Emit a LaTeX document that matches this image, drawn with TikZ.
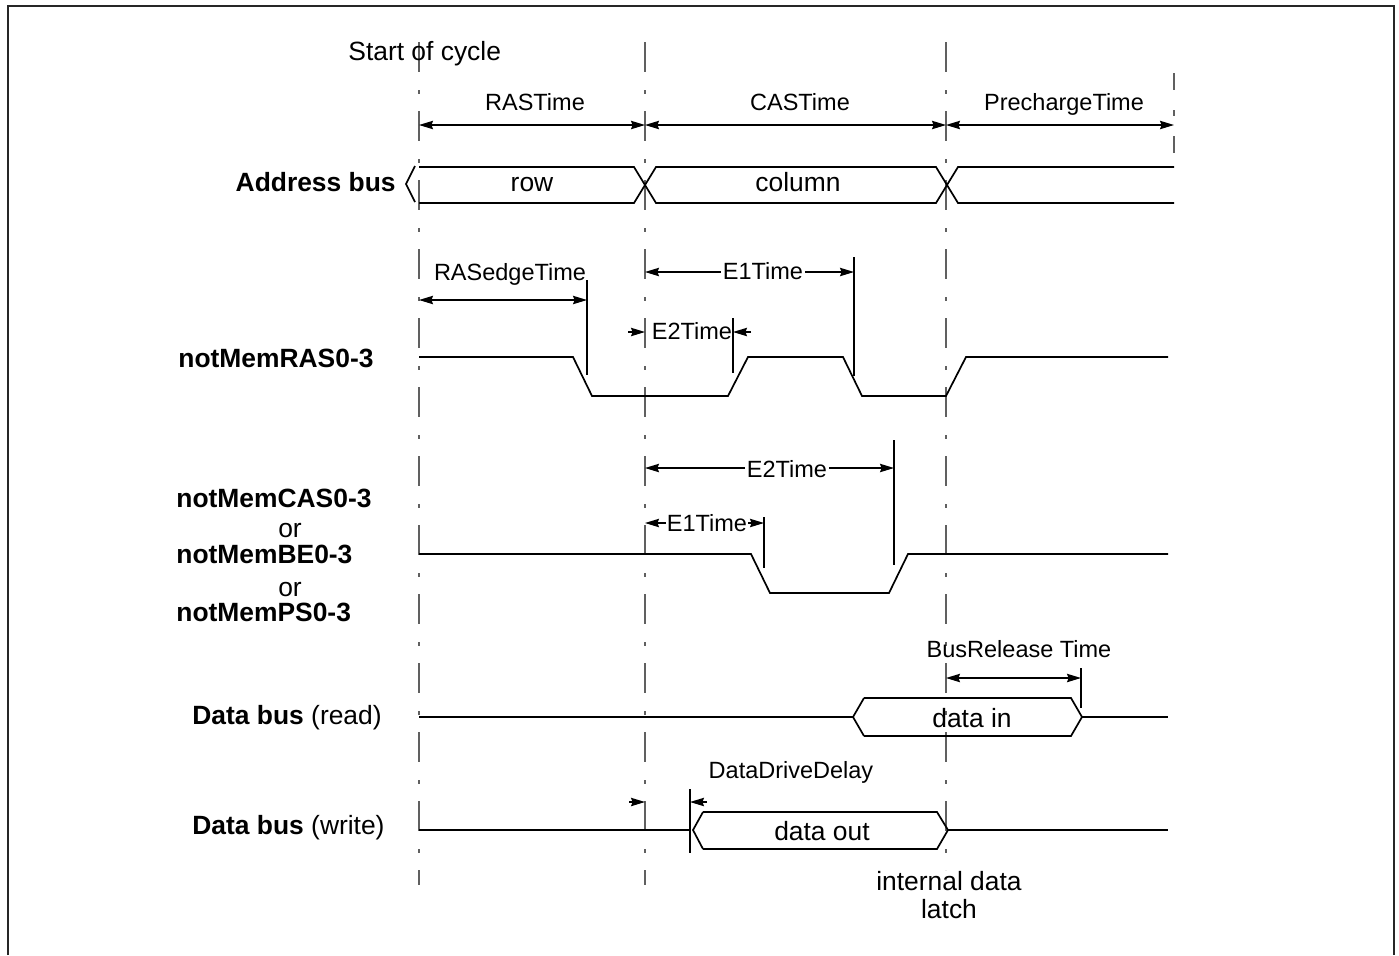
\documentclass[tikz,border=0pt]{standalone}
\usepackage{fontspec}
\setmainfont{Liberation Sans}
\usetikzlibrary{arrows.meta}
\begin{document}
\begin{tikzpicture}[x=0.5pt,y=-0.5pt,
  sig/.style={line width=0.85pt, black},
  cyc/.style={line width=0.9pt, gray!75!black, dash pattern=on 15pt off 9pt on 2pt off 8.5pt},
  tickln/.style={line width=0.85pt, black},
  dim/.style={line width=0.6pt, {Stealth[length=7pt,width=4.2pt,inset=0.8pt]}-{Stealth[length=7pt,width=4.2pt,inset=0.8pt]}},
  dimr/.style={line width=0.6pt, -{Stealth[length=7pt,width=4.2pt,inset=0.8pt]}},
  lab/.style={font=\fontsize{11.75}{14}\selectfont, inner sep=0pt, text height=0.72em, text depth=0pt},
  big/.style={font=\fontsize{13.2}{15.5}\selectfont, inner sep=0pt, text height=0.72em, text depth=0pt},
  bld/.style={font=\fontsize{13.2}{15.5}\selectfont\bfseries, inner sep=0pt, text height=0.72em, text depth=0pt},
  wlab/.style={lab, fill=white, inner xsep=1pt, inner ysep=1pt},
]
\useasboundingbox (0,0) rectangle (1399,955);
% frame
\draw[line width=1pt, gray!30!black] (8,955) -- (8,6) -- (1394,6) -- (1394,955);

% cycle boundaries
\coordinate (t0a) at (419,42);  \coordinate (t0b) at (419,885);
\coordinate (t1a) at (645,42);  \coordinate (t1b) at (645,885);
\coordinate (t2a) at (946,42);  \coordinate (t2b) at (946,870);
\coordinate (t3a) at (1174,73); \coordinate (t3b) at (1174,155);
\draw[cyc] (t0a) -- (t0b);
\draw[cyc] (t1a) -- (t1b);
\draw[cyc] (t2a) -- (t2b);
\draw[line width=0.9pt, gray!75!black, dash pattern=on 8.5pt off 10pt on 3pt off 10pt] (t3a) -- (t3b);

\node[big, anchor=west] (start) at (348,53) {Start of cycle};

% phase arrows
\coordinate (r0) at (419,125); \coordinate (r1) at (645,125);
\coordinate (r2) at (946,125); \coordinate (r3) at (1174,125);
\draw[dim] (r0) -- (r1);
\draw[dim] (r1) -- (r2);
\draw[dim] (r2) -- (r3);
\node[lab] (rast) at (535,103) {RASTime};
\node[lab] (cast) at (800,103) {CASTime};
\node[lab] (prt) at (1064,103) {PrechargeTime};

% address bus
\node[bld, anchor=east] (addr) at (396,184) {Address bus};
\draw[sig] (415,166) -- (406,184) -- (415,202);
\draw[sig] (419,167) -- (634,167) -- (656,203) -- (936,203) -- (958,167) -- (1174,167);
\draw[sig] (419,203) -- (634,203) -- (656,167) -- (936,167) -- (958,203) -- (1174,203);
\node[big] (row) at (532,184) {row};
\node[big] (col) at (798,184) {column};

% notMemRAS
\node[bld, anchor=west] (ras) at (178,360) {notMemRAS0-3};
\draw[sig] (419,357) -- (573,357) -- (592,396) -- (728,396) -- (748,357)
  -- (843,357) -- (862,396) -- (946,396) -- (966,357) -- (1168,357);
% RASedgeTime
\coordinate (re0) at (419,300); \coordinate (re1) at (587,300);
\draw[tickln] (587,280) -- (587,375);
\draw[dim] (re0) -- (re1);
\node[lab] (rasedge) at (510,273) {RASedgeTime};
% E1Time (RAS)
\coordinate (e1a) at (645,272); \coordinate (e1b) at (854,272);
\draw[tickln] (854,257) -- (854,376);
\draw[dim] (e1a) -- (e1b);
\node[wlab] (e1r) at (763,272) {E1Time};
% E2Time (RAS)
\coordinate (e2l) at (628,332); \coordinate (e2lt) at (645,332);
\coordinate (e2r) at (751,332); \coordinate (e2rt) at (733,332);
\draw[tickln] (733,318) -- (733,373);
\draw[dimr] (e2l) -- (e2lt);
\draw[dimr] (e2r) -- (e2rt);
\node[lab] (e2rl) at (692,332) {E2Time};

% notMemCAS / BE / PS
\node[bld, anchor=west] (cas) at (176,500) {notMemCAS0-3};
\node[big] (or1) at (290,530) {or};
\node[bld, anchor=west] (be) at (176,556) {notMemBE0-3};
\node[big] (or2) at (290,589) {or};
\node[bld, anchor=west] (ps) at (176,614) {notMemPS0-3};
\draw[sig] (419,554) -- (751,554) -- (770,593) -- (889,593) -- (908,554) -- (1168,554);
% E2Time (CAS)
\coordinate (c2a) at (645,468); \coordinate (c2b) at (894,468);
\draw[tickln] (894,440) -- (894,565);
\draw[dim] (c2a) -- (c2b);
\node[wlab] (e2c) at (787,470) {E2Time};
% E1Time (CAS)
\coordinate (c1a) at (645,523); \coordinate (c1b) at (764,523);
\draw[tickln] (764,517) -- (764,568);
\draw[dim] (c1a) -- (c1b);
\node[lab, fill=white, inner xsep=0.5pt, inner ysep=1pt] (e1c) at (707,524) {E1Time};

% Data bus (read)
\node[bld, anchor=west] (dbr) at (192,717) {Data bus \mdseries(read)};
\draw[sig] (419,717) -- (853,717);
\draw[sig] (864,698) -- (853,717) -- (864,736);
\draw[sig] (864,698) -- (1071,698) -- (1082,717) -- (1071,736) -- (864,736);
\draw[sig] (1082,717) -- (1168,717);
\node[big] (din) at (972,720) {data in};
% BusRelease Time
\coordinate (br0) at (946,678); \coordinate (br1) at (1081,678);
\draw[tickln] (1081,668) -- (1081,708);
\draw[dim] (br0) -- (br1);
\node[lab] (brt) at (1019,650) {BusRelease Time};

% Data bus (write)
\node[bld, anchor=west] (dbw) at (192,827) {Data bus \mdseries(write)};
\draw[sig] (419,830) -- (690,830);
\draw[tickln] (690,789) -- (690,853);
\draw[sig] (703,812) -- (693,830) -- (703,849);
\draw[sig] (703,812) -- (937,812) -- (948,830) -- (937,849) -- (703,849);
\draw[sig] (948,830) -- (1168,830);
\node[big] (dout) at (822,833) {data out};
% DataDriveDelay
\coordinate (dd0) at (629,802); \coordinate (dd0t) at (645,802);
\coordinate (dd1) at (707,802); \coordinate (dd1t) at (690,802);
\draw[dimr] (dd0) -- (dd0t);
\draw[dimr] (dd1) -- (dd1t);
\node[lab] (ddd) at (791,771) {DataDriveDelay};

\node[big] (idl1) at (949,883) {internal data};
\node[big] (idl2) at (949,911) {latch};
\end{tikzpicture}
\end{document}
